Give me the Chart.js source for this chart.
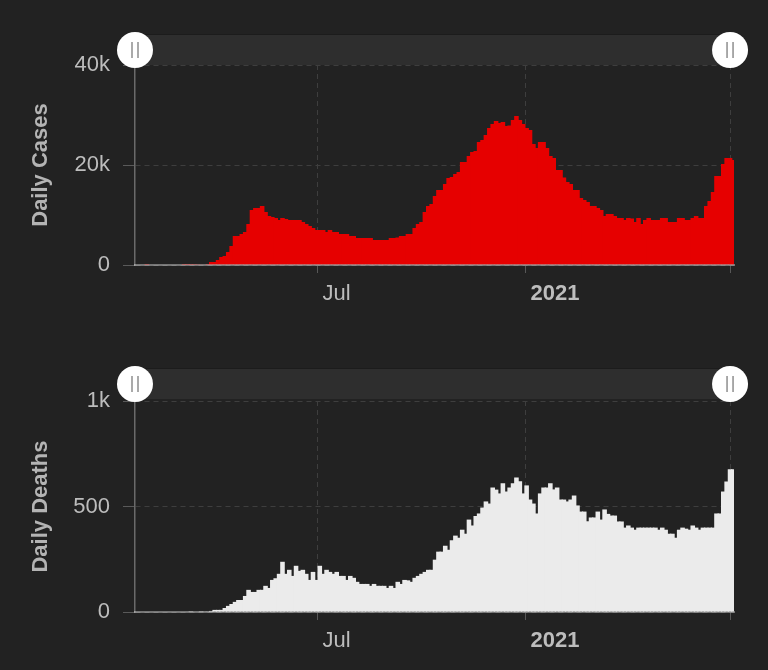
<!DOCTYPE html>
<html>
<head>
<meta charset="utf-8">
<script src="https://cdn.jsdelivr.net/npm/chart.js@4.4.1/dist/chart.umd.min.js"></script>
<style>
  html, body { margin: 0; padding: 0; background: #222222; }
  .wrap { width: 768px; height: 335px; }
</style>
</head>
<body>
<div class="wrap"><canvas id="casesChart" width="768" height="335"></canvas></div>
<div class="wrap"><canvas id="deathsChart" width="768" height="335"></canvas></div>
<script>
// day 0 = 2020-01-22, one bar every 3 days
const startDate = '2020-01-22';
const stepDays = 3;

const dailyCases = [
  0, 0, 0, 2, 0, 0, 0, 0, 0, 0, 0, 0, 0, 0, 2, 5, 15, 30, 50, 80,
  100, 200, 600, 600, 1000, 1600, 1800, 2600, 3800, 5800,
  5800, 6200, 6600, 8200, 11000, 11400, 11400, 11800, 10600, 9800,
  9600, 9400, 9000, 9400, 9200, 9000, 9000, 9000, 9000, 8600,
  8200, 7800, 7400, 7000, 7000, 7000, 6600, 7000, 6600, 6600,
  6200, 6200, 6200, 5800, 5800, 5400, 5400, 5400, 5400, 5400,
  5000, 5000, 5000, 5000, 5000, 5400, 5400, 5500, 5800, 5800,
  6200, 6200, 7400, 8200, 8600, 10600, 11800, 12200, 13800, 15000,
  15000, 16200, 17400, 17600, 18200, 18600, 20600, 20600, 21800, 22600,
  22800, 24600, 25000, 26000, 27400, 28200, 28800, 28400, 28600, 27800,
  27900, 29000, 29800, 29000, 28200, 27400, 27000, 24200, 23400, 24600,
  24600, 23400, 21800, 21400, 19000, 19000, 17500, 16600, 16200, 15000,
  15000, 13400, 13000, 12600, 11800, 11800, 11400, 11000, 9800, 10200,
  10200, 9800, 9400, 9400, 9000, 9400, 9300, 8600, 9400, 8200,
  9000, 9400, 9000, 9000, 9000, 9400, 9400, 8600, 8600, 8600,
  9400, 9400, 9000, 9000, 9400, 9800, 9400, 9400, 11800, 12800,
  14600, 17800, 17800, 20200, 21400, 21400, 21000
];

const dailyDeaths = [
  0, 0, 0, 0, 0, 0, 0, 0, 0, 0, 0, 0, 0, 0, 0, 0, 1, 0, 0, 1,
  2, 3, 5, 10, 10, 10, 19, 29, 38, 48,
  57, 57, 76, 105, 95, 95, 105, 105, 124, 114,
  152, 160, 181, 238, 181, 200, 171, 219, 195, 200,
  181, 152, 190, 152, 219, 181, 200, 190, 181, 190,
  171, 171, 152, 171, 162, 143, 133, 133, 133, 124,
  133, 124, 124, 124, 114, 124, 114, 143, 133, 152,
  150, 143, 162, 171, 181, 190, 200, 200, 248, 286,
  286, 314, 295, 340, 362, 352, 390, 371, 438, 410,
  455, 467, 495, 524, 514, 590, 580, 562, 610, 571,
  590, 610, 638, 620, 562, 600, 533, 514, 467, 562,
  590, 590, 610, 581, 590, 533, 533, 524, 533, 552,
  505, 476, 476, 430, 448, 448, 476, 438, 486, 465,
  457, 457, 429, 429, 400, 410, 400, 390, 400, 400,
  400, 400, 400, 400, 390, 400, 390, 371, 371, 352,
  390, 400, 395, 390, 410, 400, 390, 400, 400, 400,
  400, 467, 467, 571, 619, 676, 676
];

// tick positions in days since startDate: 2020-07-01, 2021-01-01, 2021-07-01
const tickDays = [161, 345, 526];
const tickLabels = ['Jul', '2021', ''];

const barDays = dailyCases.map((_, i) => 1 + i * stepDays);

Chart.defaults.font.family = "'Liberation Sans', Arial, sans-serif";
Chart.defaults.font.size = 22;
Chart.defaults.color = '#bdbdbd';

// slider bar with the two round handles above the plot
const sliderPlugin = {
  id: 'slider',
  afterDraw(chart, args, opts) {
    const ctx = chart.ctx;
    const area = chart.chartArea;
    const left = area.left;
    const right = chart.scales.x.getPixelForValue(tickDays[tickDays.length - 1]);
    const cy = area.top - opts.offset;
    ctx.save();
    ctx.fillStyle = '#2e2e2e';
    ctx.fillRect(left, cy - 15, right - left, 30);
    ctx.fillStyle = '#1c1c1c';
    ctx.fillRect(left, cy - 16, right - left, 1);
    [left, right].forEach(cx => {
      ctx.beginPath();
      ctx.arc(cx, cy, 18, 0, Math.PI * 2);
      ctx.fillStyle = '#ffffff';
      ctx.fill();
      ctx.beginPath();
      ctx.moveTo(cx - 3, cy - 8); ctx.lineTo(cx - 3, cy + 8);
      ctx.moveTo(cx + 3, cy - 8); ctx.lineTo(cx + 3, cy + 8);
      ctx.strokeStyle = '#8f8f8f';
      ctx.lineWidth = 1.5;
      ctx.stroke();
    });
    ctx.restore();
  }
};

function makeChart(id, values, color, yMax, yStep, title, padTop, xHeight, handleOffset) {
  return new Chart(document.getElementById(id), {
    type: 'bar',
    data: {
      datasets: [{
        data: values.map((v, i) => ({ x: barDays[i], y: v })),
        backgroundColor: color,
        borderWidth: 0,
        // bars overlap a little so no seams show between them
        barPercentage: 1.35,
        categoryPercentage: 1
      }]
    },
    options: {
      responsive: false,
      animation: false,
      layout: { padding: { top: padTop, left: 0, right: 34, bottom: 0 } },
      plugins: {
        legend: { display: false },
        tooltip: { enabled: false },
        slider: { offset: handleOffset }
      },
      scales: {
        x: {
          type: 'linear',
          min: -0.5,
          max: 529.5,
          offset: false,
          afterFit: scale => { scale.height = xHeight; },
          afterBuildTicks: scale => { scale.ticks = tickDays.map(d => ({ value: d })); },
          grid: {
            offset: false,
            color: '#3e3e3e',
            tickColor: '#575757',
            tickLength: 8,
            lineWidth: 1
          },
          border: { color: 'rgba(255,255,255,0.38)', width: 2, dash: [5, 4], z: 1 },
          ticks: {
            autoSkip: false,
            maxRotation: 0,
            align: 'start',
            labelOffset: 5,
            padding: 8,
            color: '#bdbdbd',
            font: ctx => ({ size: 22, weight: ctx.index === 1 ? 'bold' : 'normal' }),
            callback: (v, i) => tickLabels[i]
          }
        },
        y: {
          min: 0,
          max: yMax,
          afterFit: scale => { scale.width = 135; },
          grid: {
            color: '#3e3e3e',
            tickColor: '#5a5a5a',
            tickLength: 12,
            lineWidth: 1
          },
          border: { color: '#6a6a6a', width: 1.5, dash: [5, 4] },
          ticks: {
            stepSize: yStep,
            padding: 13,
            color: '#bdbdbd',
            callback: v => v === 0 ? '0' : (v >= 1000 ? (v / 1000) + 'k' : String(v))
          },
          title: {
            display: true,
            text: title,
            color: '#b4b4b4',
            font: { size: 22, weight: 'bold' },
            padding: { top: 28, bottom: 0 }
          }
        }
      }
    },
    plugins: [sliderPlugin]
  });
}

makeChart('casesChart', dailyCases, '#e60000', 40000, 20000, 'Daily Cases', 65, 70, 15);
makeChart('deathsChart', dailyDeaths, '#ebebeb', 1000, 500, 'Daily Deaths', 66, 58, 17);
</script>
</body>
</html>
